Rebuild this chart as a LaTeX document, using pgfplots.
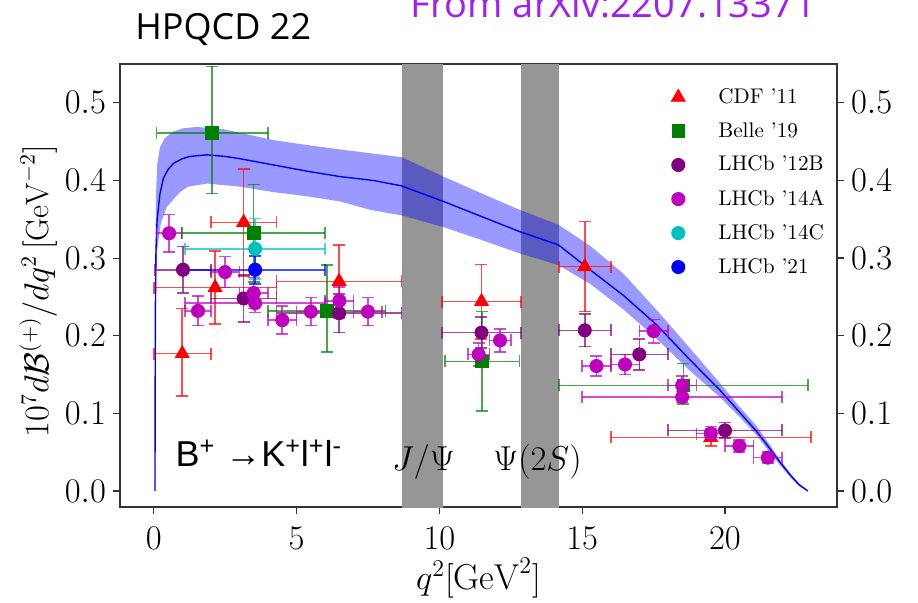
\documentclass[border=0pt]{standalone}
\usepackage{fontspec}
\usepackage{pgfplots}
\pgfplotsset{compat=1.18}
\usepackage{pgfplotstable}
\newfontfamily\opensans{Open Sans}
\newfontfamily\arialfont{Liberation Sans}
\definecolor{cdfc}{RGB}{255,0,0}
\definecolor{bellec}{RGB}{0,128,0}
\definecolor{lhcbB}{RGB}{128,0,128}
\definecolor{lhcbA}{RGB}{191,0,191}
\definecolor{lhcbC}{RGB}{0,191,191}
\definecolor{lhcbT}{RGB}{0,0,255}
\definecolor{arxivc}{RGB}{160,32,240}
\definecolor{resgray}{RGB}{150,150,150}

\pgfplotstableread{
x ex y eyp eym
1.0 1.0 0.177 0.058 0.055
2.15 2.15 0.262 0.047 0.047
3.15 1.15 0.346 0.069 0.069
6.49 2.19 0.270 0.047 0.047
11.475 1.385 0.244 0.048 0.048
15.09 0.91 0.289 0.058 0.058
19.5 3.5 0.069 0.011 0.011
}\cdfdata

\pgfplotstableread{
x ex y eyp eym
2.05 1.95 0.461 0.086 0.078
3.5 2.5 0.332 0.063 0.063
6.06 2.06 0.232 0.059 0.053
11.5 1.3 0.167 0.064 0.064
18.54 4.36 0.136 0.028 0.024
}\belledata

\pgfplotstableread{
x ex y eyp eym
1.025 0.975 0.285 0.030 0.030
3.15 1.15 0.248 0.030 0.030
6.49 2.19 0.229 0.025 0.025
11.475 1.385 0.204 0.020 0.020
15.09 0.91 0.207 0.021 0.021
17.0 1.0 0.176 0.020 0.020
20.0 2.0 0.078 0.010 0.010
}\lhcbBdata

\pgfplotstableread{
x ex y eyp eym
0.54 0.44 0.332 0.024 0.024
1.55 0.45 0.232 0.019 0.019
2.5 0.5 0.282 0.020 0.020
3.5 0.5 0.255 0.020 0.020
4.5 0.5 0.220 0.018 0.018
5.5 0.5 0.231 0.018 0.018
6.5 0.5 0.245 0.018 0.018
7.5 0.5 0.231 0.018 0.018
11.375 0.375 0.176 0.015 0.015
12.125 0.375 0.194 0.015 0.015
15.5 0.5 0.161 0.013 0.013
16.5 0.5 0.163 0.013 0.013
17.5 0.5 0.206 0.015 0.015
18.5 0.5 0.136 0.012 0.012
19.5 0.5 0.074 0.009 0.009
20.5 0.5 0.058 0.008 0.008
21.5 0.5 0.043 0.007 0.007
3.55 2.45 0.242 0.012 0.012
18.5 3.5 0.121 0.007 0.007
}\lhcbAdata

\pgfplotstableread{
x ex y eyp eym
3.55 2.45 0.312 0.039 0.039
}\lhcbCdata

\pgfplotstableread{
x ex y eyp eym
3.55 2.45 0.285 0.018 0.018
}\lhcbTdata

\pgfplotsset{
  expt/.style={only marks, color=#1, mark options={draw=#1, fill=#1},
    /pgfplots/error bars/x dir=both, /pgfplots/error bars/x explicit,
    /pgfplots/error bars/y dir=both, /pgfplots/error bars/y explicit,
    /pgfplots/error bars/error bar style={line width=0.8pt, draw=#1, opacity=0.7},
    /pgfplots/error bars/error mark options={rotate=90, draw=#1, mark size=3pt, line width=0.8pt, opacity=0.7}},
}

\begin{document}
\begin{tikzpicture}
\begin{axis}[
  at={(0,0)}, anchor=south west,
  scale only axis, width=358.5pt, height=221.5pt,
  xmin=-1.18, xmax=23.92, ymin=-0.0206, ymax=0.55,
  xtick={0,5,10,15,20}, ytick={0,0.1,0.2,0.3,0.4,0.5},
  xtick pos=bottom, ytick pos=left, tick align=outside,
  major tick length=3.5pt,
  tick style={black!80, line width=0.6pt},
  axis line style={black!80, line width=0.6pt},
  ticklabel style={font=\fontsize{18}{20}\selectfont},
  xticklabel style={yshift=-3pt},
  yticklabel style={/pgf/number format/.cd, fixed, fixed zerofill, precision=1},
  xlabel={$q^2[\mathrm{GeV}^2]$},
  ylabel={$10^7 d\mathcal{B}^{(+)}/dq^2\,[\mathrm{GeV}^{-2}]$},
  xlabel style={font=\fontsize{18}{20}\selectfont, at={(axis description cs:0.5,-0.16)}, anchor=center},
  ylabel style={font=\fontsize{16}{18}\selectfont, at={(axis description cs:-0.114,0.487)}, anchor=center},
  legend style={at={(axis description cs:0.753,0.964)}, anchor=north west,
    draw=none, fill=none, font=\fontsize{10.6}{12}\selectfont, row sep=4pt},
  legend cell align=left,
  legend image code/.code={\path[draw=none, fill=none] (0pt,0pt) -- (24pt,0pt); \path[#1, draw=none] plot coordinates {(6pt,0pt)};},
]
% resonance vetoes
\addplot[fill=resgray, draw=none, forget plot] coordinates {(8.68,-0.1) (10.11,-0.1) (10.11,1) (8.68,1)} -- cycle;
\addplot[fill=resgray, draw=none, forget plot] coordinates {(12.86,-0.1) (14.18,-0.1) (14.18,1) (12.86,1)} -- cycle;
% theory band
\addplot[fill=blue, fill opacity=0.4, draw=none, forget plot] coordinates {
(0.045,0) (0.05,0.18) (0.06,0.30) (0.08,0.38) (0.12,0.42) (0.22,0.443) (0.4,0.455)
(0.69,0.463) (1.0,0.467) (1.51,0.469) (2.44,0.466) (3.2,0.460) (4.19,0.452)
(5.3,0.446) (6.52,0.440) (7.6,0.435) (8.68,0.430) (10.14,0.405) (11.5,0.383)
(12.82,0.362) (14.17,0.343) (15.27,0.316) (16.44,0.280) (17.61,0.233)
(18.77,0.184) (19.82,0.139) (20.52,0.108) (21.1,0.084) (21.5,0.063)
(21.93,0.040) (22.3,0.022) (22.6,0.009) (22.9,0)
(22.6,0.006) (22.3,0.017) (21.93,0.033) (21.5,0.053) (21.1,0.072)
(20.52,0.095) (19.82,0.121) (18.77,0.155) (17.61,0.196) (16.44,0.234)
(15.27,0.267) (14.17,0.291) (12.82,0.306) (11.5,0.323) (10.14,0.340)
(8.68,0.355) (7.6,0.362) (6.52,0.373) (5.3,0.380) (4.19,0.385) (3.02,0.392)
(1.86,0.396) (1.2,0.392) (0.92,0.385) (0.46,0.366) (0.25,0.345) (0.12,0.31)
(0.09,0.28) (0.07,0.2) (0.055,0.1) (0.045,0)
} -- cycle;
% theory central
\addplot[blue, line width=0.7pt, forget plot] coordinates {
(0.045,0) (0.05,0.12) (0.06,0.24) (0.08,0.31) (0.12,0.35) (0.22,0.383)
(0.34,0.403) (0.5,0.414) (0.69,0.422) (1.0,0.428) (1.27,0.431) (1.86,0.433)
(2.5,0.431) (3.02,0.428) (4.19,0.420) (5.36,0.412) (6.52,0.405) (7.69,0.400)
(8.68,0.393) (10.14,0.373) (12.82,0.334) (14.17,0.317) (15.1,0.290)
(16.44,0.252) (17.61,0.214) (18.77,0.169) (19.82,0.130) (20.52,0.101)
(21.1,0.077) (21.5,0.058) (21.93,0.037) (22.3,0.020) (22.6,0.008) (22.9,0)
};
% data
\addplot[mark=triangle*, mark size=4pt, expt=cdfc] table[x=x, y=y, x error=ex, y error plus=eyp, y error minus=eym]{\cdfdata};
\addlegendentry{CDF '11}
\addplot[mark=square*, mark size=3.2pt, expt=bellec] table[x=x, y=y, x error=ex, y error plus=eyp, y error minus=eym]{\belledata};
\addlegendentry{Belle '19}
\addplot[mark=*, mark size=3.3pt, expt=lhcbB] table[x=x, y=y, x error=ex, y error plus=eyp, y error minus=eym]{\lhcbBdata};
\addlegendentry{LHCb '12B}
\addplot[mark=*, mark size=3.3pt, expt=lhcbA] table[x=x, y=y, x error=ex, y error plus=eyp, y error minus=eym]{\lhcbAdata};
\addlegendentry{LHCb '14A}
\addplot[mark=*, mark size=3.3pt, expt=lhcbC] table[x=x, y=y, x error=ex, y error plus=eyp, y error minus=eym]{\lhcbCdata};
\addlegendentry{LHCb '14C}
\addplot[mark=*, mark size=3.3pt, expt=lhcbT] table[x=x, y=y, x error=ex, y error plus=eyp, y error minus=eym]{\lhcbTdata};
\addlegendentry{LHCb '21}
% annotations
\node[anchor=base west, font=\arialfont\fontsize{18}{20}\selectfont, inner sep=0pt] at (axis cs:0.75,0.031)
  {B\textsuperscript{+} →K\textsuperscript{+}l\textsuperscript{+}l\textsuperscript{-}};
\node[anchor=base west, font=\fontsize{18}{20}\selectfont, inner sep=0pt] at (axis cs:8.33,0.027) {$J/\Psi$};
\node[anchor=base west, font=\fontsize{18}{20}\selectfont, inner sep=0pt] at (axis cs:11.88,0.027) {$\Psi(2S)$};
\end{axis}
\begin{axis}[
  at={(0,0)}, anchor=south west,
  scale only axis, width=358.5pt, height=221.5pt,
  xmin=-1.18, xmax=23.92, ymin=-0.0206, ymax=0.55,
  hide x axis,
  ytick={0,0.1,0.2,0.3,0.4,0.5},
  ytick pos=right, yticklabel pos=right, tick align=outside,
  major tick length=3.5pt,
  tick style={black!80, line width=0.6pt},
  axis line style={black!80, line width=0.6pt},
  ticklabel style={font=\fontsize{18}{20}\selectfont},
  yticklabel style={/pgf/number format/.cd, fixed, fixed zerofill, precision=1},
]
\addplot[draw=none, forget plot] coordinates {(0,0)};
\end{axis}
\node[anchor=base west, inner sep=0pt, font=\opensans\fontsize{18}{20}\selectfont] at (7.5pt,234pt) {HPQCD 22};
\node[anchor=base west, inner sep=0pt, text=arxivc, font=\opensans\fontsize{19}{22}\selectfont] at (145pt,245pt) {From arXiv:2207.13371};
\pgfresetboundingbox
\useasboundingbox (-60pt,-47.5pt) rectangle (399pt,253.5pt);
\end{tikzpicture}
\end{document}
